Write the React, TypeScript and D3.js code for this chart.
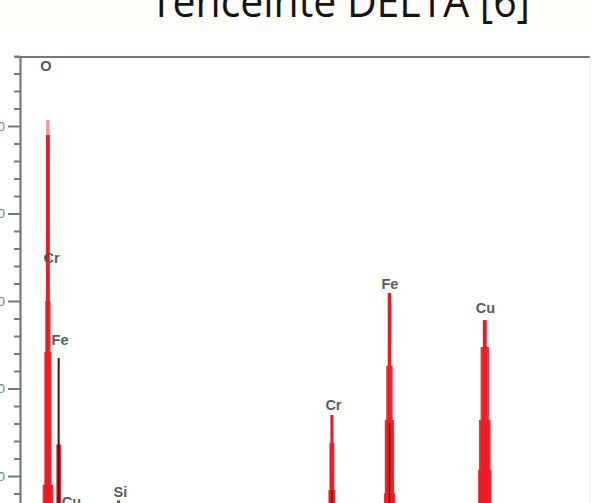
import React from "react";
import * as d3 from "d3";

// ---- data ----
const titleText = "Tenceinte DELTA [6]";

// y axis tick values (counts)
const majorTicks = [500, 1000, 1500, 2000, 2500];
const minorTicks = d3.range(100, 3000, 100).filter((v) => v % 500 !== 0);

// peaks: centre energy (keV) and stepped outline levels [half width keV, counts]
const peakNames = ["O", "FeL", "Si", "CrK", "FeK", "CuK", "FeKb", "CuKb"];
const peakEnergies = [0.525, 0.71, 1.74, 5.41, 6.4, 8.04, 7.06, 8.9];
const oLevels = [[0.034, 2449], [0.045, 1500], [0.062, 1209], [0.09, 450]];
const feLLevels = [[0.04, 680], [0.06, 300]];
const siLevels = [[0.026, 360]];
const crKLevels = [[0.026, 849], [0.043, 689], [0.06, 420], [0.077, 250]];
const feKLevels = [[0.03, 1546], [0.055, 1129], [0.08, 820], [0.095, 400]];
const cuKLevels = [[0.034, 1391], [0.072, 1237], [0.1, 820], [0.115, 534]];
const feKbLevels = [[0.2, 345]];
const cuKbLevels = [[0.2, 345]];
const peakLevels = [oLevels, feLLevels, siLevels, crKLevels, feKLevels, cuKLevels, feKbLevels, cuKbLevels];
const peakFaint = [false, false, false, false, false, false, true, true];

// light tips [half width keV, counts top, counts bottom]
const tipEnergies = [0.525];
const tipLevels = [[0.03, 2534, 2449]];

// dark centre lines [energy, half width keV, counts]
const darkEnergies = [0.71, 6.4, 5.41];
const darkHalfWidths = [0.018, 0.012, 0.012];
const darkCounts = [1174, 803, 420];

// labels
const labelTexts = ["O", "Cr", "Fe", "Cu", "Si", "Cr", "Fe", "Cu"];
const labelEnergies = [0.492, 0.587, 0.733, 0.93, 1.773, 5.437, 6.409, 8.051];
const labelCounts = [2814, 1717, 1249, 323, 380, 877, 1569, 1431];

const W = 592;
const H = 503;

export default function App() {
  const x = d3.scaleLinear().domain([0.045, 9.85]).range([20, 590]);
  const y = d3.scaleLinear().domain([0, 2900]).range([563.5, 56]);

  const red = "#ec1c24";
  const axisColor = "#707a7e";
  const labelColor = "#545d61";

  const majorRef = React.useRef<SVGGElement>(null);
  const minorRef = React.useRef<SVGGElement>(null);

  React.useEffect(() => {
    if (majorRef.current) {
      const ax = d3
        .axisLeft(y)
        .tickValues(majorTicks)
        .tickSize(12)
        .tickSizeOuter(0)
        .tickPadding(3)
        .tickFormat((d) => String(d));
      const g = d3.select(majorRef.current).call(ax as any);
      g.select(".domain").attr("stroke", axisColor).attr("stroke-width", 2.2);
      g.selectAll(".tick line").attr("stroke", axisColor).attr("stroke-width", 2);
      g.selectAll(".tick text")
        .attr("fill", axisColor)
        .attr("font-size", 13)
        .attr("font-family", "Liberation Sans, Arial, sans-serif");
    }
    if (minorRef.current) {
      const ax = d3
        .axisLeft(y)
        .tickValues(minorTicks)
        .tickSize(6)
        .tickSizeOuter(0)
        .tickFormat(() => "");
      const g = d3.select(minorRef.current).call(ax as any);
      g.select(".domain").remove();
      g.selectAll(".tick line").attr("stroke", axisColor).attr("stroke-width", 2);
    }
  }, []);

  return (
    <div style={{ position: "absolute", left: 0, top: 0, width: W, height: H, overflow: "hidden" }}>
      <svg width={W} height={H} style={{ display: "block", background: "#ffffff" }}>
        <rect x={0} y={0} width={W} height={30} fill="#fefdf9" />
        <text
          x={150}
          y={17}
          fontSize={44}
          fontFamily="Open Sans, Liberation Sans, sans-serif"
          fill="#141414"
          textLength={380}
          lengthAdjust="spacingAndGlyphs"
        >
          {titleText}
        </text>

        {/* peaks */}
        {peakNames.map((name, i) => (
          <g key={name}>
            {peakLevels[i].map(([hw, c], j) => (
              <rect
                key={j}
                x={x(peakEnergies[i] - hw)}
                width={x(peakEnergies[i] + hw) - x(peakEnergies[i] - hw)}
                y={y(c)}
                height={y(0) - y(c)}
                fill={peakFaint[i] ? "#f7d6d6" : red}
                opacity={peakFaint[i] ? 0.7 : j === 0 ? 1 : 0.92}
              />
            ))}
          </g>
        ))}
        {tipEnergies.map((e, i) => (
          <rect
            key={"tip" + i}
            x={x(e - tipLevels[i][0])}
            width={x(e + tipLevels[i][0]) - x(e - tipLevels[i][0])}
            y={y(tipLevels[i][1])}
            height={y(tipLevels[i][2]) - y(tipLevels[i][1])}
            fill="#f4989c"
          />
        ))}
        {darkEnergies.map((e, i) => (
          <rect
            key={"dk" + i}
            x={x(e - darkHalfWidths[i])}
            width={x(e + darkHalfWidths[i]) - x(e - darkHalfWidths[i])}
            y={y(darkCounts[i])}
            height={y(0) - y(darkCounts[i])}
            fill="#4a1a1a"
          />
        ))}

        {/* labels */}
        {labelTexts.map((t, i) => (
          <text
            key={"lb" + i}
            x={x(labelEnergies[i])}
            y={y(labelCounts[i])}
            textAnchor="middle"
            fontSize={14.5}
            fontWeight="bold"
            fontFamily="Liberation Sans, Arial, sans-serif"
            fill={labelColor}
          >
            {t}
          </text>
        ))}

        {/* frame */}
        <line x1={15} x2={590} y1={57} y2={57} stroke={axisColor} strokeWidth={2.2} />
        <line x1={590} x2={590} y1={57} y2={H} stroke="#efeeee" strokeWidth={1} />
        <g ref={minorRef} transform="translate(20,0)" />
        <g ref={majorRef} transform="translate(20,0)" />
      </svg>
    </div>
  );
}
